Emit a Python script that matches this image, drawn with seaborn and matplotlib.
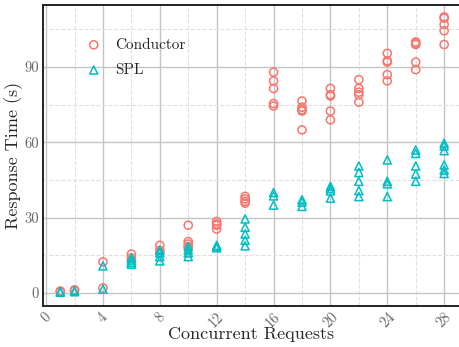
import numpy as np
import pandas as pd
import matplotlib
matplotlib.use("Agg")
import matplotlib.pyplot as plt
from matplotlib.ticker import MultipleLocator
import seaborn as sns

# Response time samples per concurrency level
conductor_x = [1, 1, 2, 2, 4, 4, 6, 6, 6, 8, 8, 8,
               10, 10, 10, 10, 10, 12, 12, 12, 12, 14, 14, 14, 14,
               16, 16, 16, 16, 16, 18, 18, 18, 18, 18,
               20, 20, 20, 20, 20, 22, 22, 22, 22, 22,
               24, 24, 24, 24, 24, 26, 26, 26, 26, 26,
               28, 28, 28, 28, 28]
conductor_y = [0.5, 0.8, 1.0, 1.3, 12.4, 2.0, 15.5, 14.0, 13.0, 19.0, 17.0, 16.0,
               27.0, 20.5, 19.5, 18.5, 18.0, 28.5, 27.5, 27.0, 25.5, 38.5, 37.5, 36.5, 35.8,
               88.0, 84.5, 81.5, 75.5, 74.5, 76.5, 74.0, 73.0, 72.5, 65.0,
               81.5, 79.0, 78.5, 72.5, 69.0, 85.0, 81.5, 80.0, 79.0, 76.0,
               95.5, 92.5, 92.0, 87.0, 84.5, 100.0, 99.5, 99.0, 92.0, 89.0,
               110.0, 109.5, 107.0, 104.5, 99.0]

spl_x = [1, 1, 2, 2, 4, 4, 6, 6, 6, 6, 8, 8, 8, 8,
         10, 10, 10, 10, 12, 12, 12, 14, 14, 14, 14, 14,
         16, 16, 16, 18, 18, 18, 20, 20, 20, 20,
         22, 22, 22, 22, 22, 24, 24, 24, 24,
         26, 26, 26, 26, 26, 28, 28, 28, 28, 28, 28]
spl_y = [0.3, 0.6, 0.5, 0.9, 10.8, 1.5, 14.0, 13.0, 12.2, 11.5, 17.0, 16.0, 14.5, 12.8,
         18.5, 17.2, 16.0, 14.5, 19.0, 18.5, 18.0, 29.5, 26.2, 23.5, 21.0, 18.8,
         40.0, 38.7, 35.0, 37.2, 36.2, 34.5, 42.5, 41.6, 40.7, 37.8,
         50.6, 48.0, 44.5, 40.8, 38.4, 53.0, 44.5, 43.5, 38.4,
         57.0, 55.6, 50.6, 47.4, 44.5, 59.7, 58.6, 56.7, 51.0, 49.0, 47.6]

series = ["Conductor", "SPL"]
colors = {"Conductor": "#F8766D", "SPL": "#00BFC4"}
markers = {"Conductor": "o", "SPL": "^"}

df = pd.concat([
    pd.DataFrame({"requests": conductor_x, "time": conductor_y, "system": "Conductor"}),
    pd.DataFrame({"requests": spl_x, "time": spl_y, "system": "SPL"}),
])

sns.set_style("white")
plt.rcParams["font.family"] = "serif"
plt.rcParams["font.serif"] = ["cmr10", "DejaVu Serif"]
plt.rcParams["mathtext.fontset"] = "cm"
plt.rcParams["axes.unicode_minus"] = False

fig = plt.figure(figsize=(4.6, 3.47), dpi=100)
ax = fig.add_axes([0.094, 0.118, 0.904, 0.868])

for name in series:
    sub = df[df["system"] == name]
    sns.scatterplot(x=sub["requests"], y=sub["time"], ax=ax, marker=markers[name],
                    s=34, facecolor="none", edgecolor=colors[name], linewidth=1.1,
                    label=name, zorder=3)

ax.set_xlim(-0.2, 29.05)
ax.set_ylim(-5.2, 114.8)
ax.xaxis.set_major_locator(MultipleLocator(4))
ax.xaxis.set_minor_locator(MultipleLocator(2))
ax.yaxis.set_major_locator(MultipleLocator(30))
ax.yaxis.set_minor_locator(MultipleLocator(15))

ax.grid(which="major", color="#c4c4c4", linestyle="-", linewidth=1.0, zorder=0)
ax.grid(which="minor", color="#e0e0e0", linestyle="--", linewidth=0.8, zorder=0)
ax.set_axisbelow(True)

for side in ["left", "top", "bottom"]:
    ax.spines[side].set_color("#222222")
    ax.spines[side].set_linewidth(1.4)
ax.spines["right"].set_visible(False)

ax.tick_params(axis="both", which="major", direction="in", length=4, width=1,
               color="#222222", labelcolor="#666666", labelsize=10.5, pad=3)
ax.tick_params(axis="both", which="minor", length=0)
for lbl in ax.get_xticklabels():
    lbl.set_rotation(45)

ax.set_xlabel("Concurrent Requests", fontsize=13, labelpad=-3)
ax.set_ylabel("Response Time (s)", fontsize=13, labelpad=1)

ax.legend(loc="upper left", bbox_to_anchor=(0.07, 0.91), frameon=False, fontsize=11,
          handletextpad=0.4, labelspacing=0.75, borderaxespad=0)

fig.savefig("out.png", dpi=100)
